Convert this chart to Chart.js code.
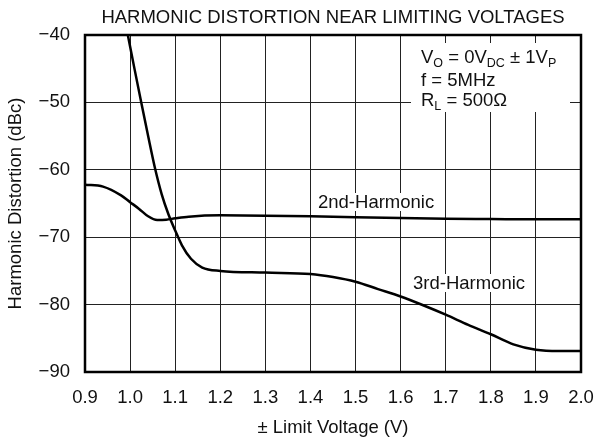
<!DOCTYPE html>
<html>
<head>
<meta charset="utf-8">
<script src="https://cdn.jsdelivr.net/npm/chart.js@4"></script>
<style>
  html, body { margin: 0; padding: 0; background: #fff; }
  canvas { display: block; }
</style>
</head>
<body>
<canvas id="chart" width="597" height="440"></canvas>
<script>
// ----- values -----
const xTicks = [0.9, 1.0, 1.1, 1.2, 1.3, 1.4, 1.5, 1.6, 1.7, 1.8, 1.9, 2.0];
const yTicks = [-90, -80, -70, -60, -50, -40];

const h2Volts = [0.9, 0.94, 0.98, 1.0, 1.02, 1.04, 1.06, 1.08, 1.1, 1.13, 1.2, 1.3, 1.4, 1.5, 1.6, 1.7, 1.8, 1.9, 2.0];
const h2Dbc = [-62.2, -62.5, -63.8, -64.8, -65.8, -66.9, -67.45, -67.4, -67.2, -66.95, -66.75, -66.8, -66.9, -67.05, -67.15, -67.25, -67.3, -67.35, -67.35];

const h3Volts = [0.995, 1.01, 1.025, 1.04, 1.055, 1.07, 1.085, 1.1, 1.115, 1.135, 1.16, 1.2, 1.3, 1.4, 1.45, 1.5, 1.55, 1.6, 1.65, 1.7, 1.75, 1.8, 1.85, 1.9, 1.95, 2.0];
const h3Dbc = [-40, -45.1, -50.1, -55.0, -59.7, -63.6, -66.6, -69.0, -71.2, -73.2, -74.5, -75.0, -75.25, -75.45, -75.9, -76.6, -77.7, -78.8, -80.1, -81.5, -83.0, -84.4, -85.9, -86.7, -86.9, -86.9];

const FONT = "'Liberation Sans', Arial, Helvetica, sans-serif";
const SIZE = 18.5;
const INK = "#111";

function toPoints(xs, ys) {
  return xs.map((x, i) => ({ x: x, y: ys[i] }));
}

// ----- text, labels and frame drawn on top -----
function labelWithBox(ctx, text, x, base) {
  const w = ctx.measureText(text).width;
  ctx.fillStyle = "#fff";
  ctx.fillRect(x - 2, base - 15, w + 4, 18);
  ctx.fillStyle = INK;
  ctx.fillText(text, x, base);
}

// draws pieces like ["V", "O"] as normal text followed by a subscript
function subLine(ctx, parts, x, base) {
  parts.forEach(p => {
    ctx.font = SIZE + "px " + FONT;
    ctx.fillText(p[0], x, base);
    x += ctx.measureText(p[0]).width;
    if (p[1]) {
      ctx.font = "12.5px " + FONT;
      ctx.fillText(p[1], x, base + 4);
      x += ctx.measureText(p[1]).width;
    }
  });
}

const decorations = {
  id: "decorations",
  afterDatasetsDraw(chart) {
    const ctx = chart.ctx;
    ctx.save();
    ctx.textBaseline = "alphabetic";
    ctx.textAlign = "left";
    ctx.font = SIZE + "px " + FONT;

    labelWithBox(ctx, "2nd-Harmonic", 318, 208);
    labelWithBox(ctx, "3rd-Harmonic", 413, 289);

    // conditions box
    ctx.fillStyle = "#fff";
    ctx.fillRect(411, 43, 159, 69);
    ctx.fillStyle = INK;
    subLine(ctx, [["V", "O"], [" = 0V", "DC"], [" \u00B1 1V", "P"]], 421, 63);
    subLine(ctx, [["f = 5MHz", ""]], 421, 85.5);
    subLine(ctx, [["R", "L"], [" = 500\u03A9", ""]], 421, 106);
    ctx.restore();
  },
  afterDraw(chart) {
    const ctx = chart.ctx;
    const a = chart.chartArea;
    ctx.save();
    ctx.strokeStyle = "#000";
    ctx.lineWidth = 2.5;
    ctx.strokeRect(a.left, a.top, a.right - a.left, a.bottom - a.top);

    ctx.fillStyle = INK;
    ctx.font = SIZE + "px " + FONT;
    ctx.textAlign = "center";
    ctx.textBaseline = "middle";
    ctx.fillText("HARMONIC DISTORTION NEAR LIMITING VOLTAGES", (a.left + a.right) / 2, 18);
    ctx.restore();
  }
};

new Chart(document.getElementById("chart"), {
  type: "line",
  data: {
    datasets: [
      {
        label: "2nd-Harmonic",
        data: toPoints(h2Volts, h2Dbc),
        borderColor: "#000",
        borderWidth: 2.5,
        pointRadius: 0,
        cubicInterpolationMode: "monotone",
        fill: false
      },
      {
        label: "3rd-Harmonic",
        data: toPoints(h3Volts, h3Dbc),
        borderColor: "#000",
        borderWidth: 2.5,
        pointRadius: 0,
        cubicInterpolationMode: "monotone",
        fill: false
      }
    ]
  },
  options: {
    responsive: false,
    animation: false,
    layout: { padding: { top: 35, right: 16, left: 0, bottom: 0 } },
    plugins: {
      legend: { display: false },
      title: { display: false },
      tooltip: { enabled: false }
    },
    scales: {
      x: {
        type: "linear",
        min: 0.9,
        max: 2.0,
        afterBuildTicks: s => { s.ticks = xTicks.map(v => ({ value: v })); },
        afterFit: s => { s.height = 68; s.paddingLeft = 0; s.paddingRight = 0; },
        border: { display: false },
        grid: { color: "#222", lineWidth: 1, drawTicks: false },
        ticks: {
          color: INK,
          padding: 15,
          maxRotation: 0,
          font: { family: FONT, size: SIZE },
          callback: v => v.toFixed(1)
        },
        title: {
          display: true,
          text: "\u00B1 Limit Voltage (V)",
          color: INK,
          font: { family: FONT, size: SIZE },
          padding: { top: 0, bottom: 1 }
        }
      },
      y: {
        min: -90,
        max: -40,
        afterBuildTicks: s => { s.ticks = yTicks.map(v => ({ value: v })); },
        afterFit: s => { s.width = 85; s.paddingTop = 0; s.paddingBottom = 0; },
        border: { display: false },
        grid: { color: "#222", lineWidth: 1, drawTicks: false },
        ticks: {
          color: INK,
          padding: 15,
          font: { family: FONT, size: SIZE },
          callback: v => (v < 0 ? "\u2212" + Math.abs(v) : String(v))
        },
        title: {
          display: true,
          text: "Harmonic Distortion (dBc)",
          color: INK,
          font: { family: FONT, size: SIZE },
          padding: { top: 5, bottom: 0 }
        }
      }
    }
  },
  plugins: [decorations]
});
</script>
</body>
</html>
